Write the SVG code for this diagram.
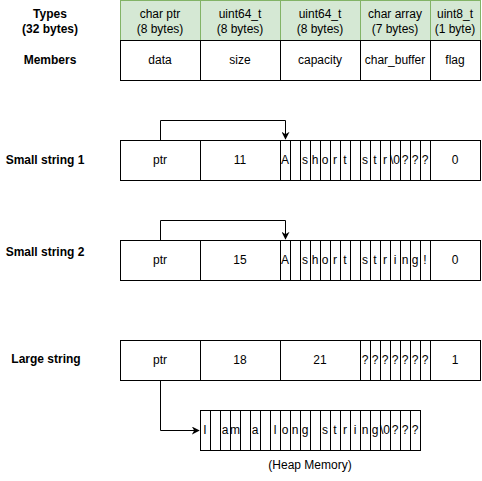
<svg xmlns="http://www.w3.org/2000/svg" width="482" height="481" viewBox="0 0 482 481">
<defs>
<style>
text{font-family:"Liberation Sans",Arial,Helvetica,sans-serif;font-size:12px;fill:#000;text-anchor:middle;dominant-baseline:central}
.b{font-weight:bold}
.h{fill:#d5e8d4;stroke:#82b366;stroke-width:1}
.c{fill:#fff;stroke:#000;stroke-width:1}
.w{fill:none;stroke:#000;stroke-width:1}
</style>
<marker id="ah" viewBox="0 0 10 10" refX="9" refY="5" markerWidth="8" markerHeight="8" markerUnits="userSpaceOnUse" orient="auto">
<path d="M0,0 L10,5 L0,10 L3,5 Z" fill="#000"/>
</marker>
</defs>
<rect width="482" height="481" fill="#fff"/>

<g id="labels">
<text class="b" x="50" y="14">Types</text>
<text class="b" x="50" y="29">(32 bytes)</text>
<text class="b" x="50" y="60">Members</text>
<text class="b" x="45" y="160">Small string 1</text>
<text class="b" x="45" y="252">Small string 2</text>
<text class="b" x="46" y="359">Large string</text>
</g>

<g id="types">
<rect class="h" x="120.5" y="0.5" width="80" height="40"/>
<rect class="h" x="200.5" y="0.5" width="80" height="40"/>
<rect class="h" x="280.5" y="0.5" width="80" height="40"/>
<rect class="h" x="360.5" y="0.5" width="70" height="40"/>
<rect class="h" x="430.5" y="0.5" width="50" height="40"/>
<text x="160" y="14">char ptr</text><text x="160" y="29">(8 bytes)</text>
<text x="240" y="14">uint64_t</text><text x="240" y="29">(8 bytes)</text>
<text x="320" y="14">uint64_t</text><text x="320" y="29">(8 bytes)</text>
<text x="395" y="14">char array</text><text x="395" y="29">(7 bytes)</text>
<text x="455" y="14">uint8_t</text><text x="455" y="29">(1 byte)</text>
</g>

<g id="members">
<rect class="c" x="120.5" y="40.5" width="80" height="40"/>
<rect class="c" x="200.5" y="40.5" width="80" height="40"/>
<rect class="c" x="280.5" y="40.5" width="80" height="40"/>
<rect class="c" x="360.5" y="40.5" width="70" height="40"/>
<rect class="c" x="430.5" y="40.5" width="50" height="40"/>
<text x="160" y="60">data</text>
<text x="240" y="60">size</text>
<text x="320" y="60">capacity</text>
<text x="395" y="60">char_buffer</text>
<text x="455" y="60">flag</text>
</g>

<g id="small1">
<rect class="c" x="120.5" y="140.5" width="360" height="40"/>
<path class="w" d="M200.5,140.5V180.5M280.5,140.5V180.5M290.5,140.5V180.5M300.5,140.5V180.5M310.5,140.5V180.5M320.5,140.5V180.5M330.5,140.5V180.5M340.5,140.5V180.5M350.5,140.5V180.5M360.5,140.5V180.5M370.5,140.5V180.5M380.5,140.5V180.5M390.5,140.5V180.5M400.5,140.5V180.5M410.5,140.5V180.5M420.5,140.5V180.5M430.5,140.5V180.5"/>
<text x="160" y="160">ptr</text>
<text x="240" y="160">11</text>
<text x="285" y="160">A</text>
<text x="305" y="160">s</text>
<text x="315" y="160">h</text>
<text x="325" y="160">o</text>
<text x="335" y="160">r</text>
<text x="345" y="160">t</text>
<text x="365" y="160">s</text>
<text x="375" y="160">t</text>
<text x="385" y="160">r</text>
<text x="395" y="160">\0</text>
<text x="405" y="160">?</text>
<text x="415" y="160">?</text>
<text x="425" y="160">?</text>
<text x="455" y="160">0</text>
</g>

<g id="small2">
<rect class="c" x="120.5" y="240.5" width="360" height="40"/>
<path class="w" d="M200.5,240.5V280.5M280.5,240.5V280.5M290.5,240.5V280.5M300.5,240.5V280.5M310.5,240.5V280.5M320.5,240.5V280.5M330.5,240.5V280.5M340.5,240.5V280.5M350.5,240.5V280.5M360.5,240.5V280.5M370.5,240.5V280.5M380.5,240.5V280.5M390.5,240.5V280.5M400.5,240.5V280.5M410.5,240.5V280.5M420.5,240.5V280.5M430.5,240.5V280.5"/>
<text x="160" y="260">ptr</text>
<text x="240" y="260">15</text>
<text x="285" y="260">A</text>
<text x="305" y="260">s</text>
<text x="315" y="260">h</text>
<text x="325" y="260">o</text>
<text x="335" y="260">r</text>
<text x="345" y="260">t</text>
<text x="365" y="260">s</text>
<text x="375" y="260">t</text>
<text x="385" y="260">r</text>
<text x="395" y="260">i</text>
<text x="405" y="260">n</text>
<text x="415" y="260">g</text>
<text x="425" y="260">!</text>
<text x="455" y="260">0</text>
</g>

<g id="large">
<rect class="c" x="120.5" y="340.5" width="360" height="40"/>
<path class="w" d="M200.5,340.5V380.5M280.5,340.5V380.5M360.5,340.5V380.5M370.5,340.5V380.5M380.5,340.5V380.5M390.5,340.5V380.5M400.5,340.5V380.5M410.5,340.5V380.5M420.5,340.5V380.5M430.5,340.5V380.5"/>
<text x="160" y="360">ptr</text>
<text x="240" y="360">18</text>
<text x="320" y="360">21</text>
<text x="365" y="360">?</text>
<text x="375" y="360">?</text>
<text x="385" y="360">?</text>
<text x="395" y="360">?</text>
<text x="405" y="360">?</text>
<text x="415" y="360">?</text>
<text x="425" y="360">?</text>
<text x="455" y="360">1</text>
</g>

<g id="heap">
<rect class="c" x="200.5" y="410.5" width="220" height="40"/>
<path class="w" d="M210.5,410.5V450.5M220.5,410.5V450.5M230.5,410.5V450.5M240.5,410.5V450.5M250.5,410.5V450.5M260.5,410.5V450.5M270.5,410.5V450.5M280.5,410.5V450.5M290.5,410.5V450.5M300.5,410.5V450.5M310.5,410.5V450.5M320.5,410.5V450.5M330.5,410.5V450.5M340.5,410.5V450.5M350.5,410.5V450.5M360.5,410.5V450.5M370.5,410.5V450.5M380.5,410.5V450.5M390.5,410.5V450.5M400.5,410.5V450.5M410.5,410.5V450.5"/>
<text x="205" y="430">I</text>
<text x="225" y="430">a</text>
<text x="235" y="430">m</text>
<text x="255" y="430">a</text>
<text x="275" y="430">l</text>
<text x="285" y="430">o</text>
<text x="295" y="430">n</text>
<text x="305" y="430">g</text>
<text x="325" y="430">s</text>
<text x="335" y="430">t</text>
<text x="345" y="430">r</text>
<text x="355" y="430">i</text>
<text x="365" y="430">n</text>
<text x="375" y="430">g</text>
<text x="385" y="430">\0</text>
<text x="395" y="430">?</text>
<text x="405" y="430">?</text>
<text x="415" y="430">?</text>
<text x="310" y="465">(Heap Memory)</text>
</g>

<g id="connectors">
<path class="w" d="M160.5,140V120.5H285.5V139" marker-end="url(#ah)"/>
<path class="w" d="M160.5,240V220.5H285.5V239" marker-end="url(#ah)"/>
<path class="w" d="M160.5,381V430.5H199" marker-end="url(#ah)"/>
</g>
</svg>
